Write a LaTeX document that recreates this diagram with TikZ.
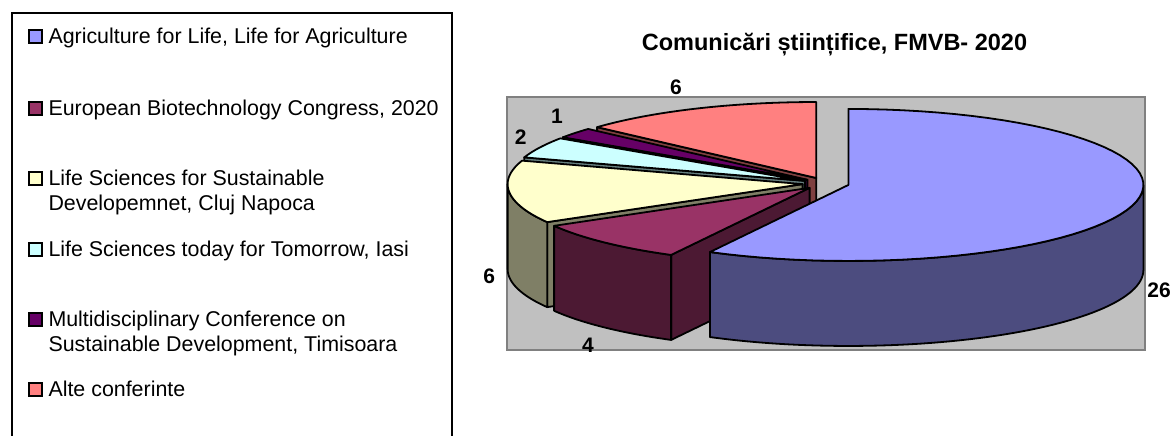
\documentclass[tikz,border=0pt]{standalone}
\usepackage{fontspec}
\setmainfont{Liberation Sans}
\definecolor{blueTop}{HTML}{9999FF}
\definecolor{blueSide}{HTML}{4C4C7F}
\definecolor{maroonTop}{HTML}{993366}
\definecolor{maroonSide}{HTML}{4C1933}
\definecolor{yellowTop}{HTML}{FFFFCC}
\definecolor{yellowSide}{HTML}{7F7F66}
\definecolor{cyanTop}{HTML}{CCFFFF}
\definecolor{cyanSide}{HTML}{667F7F}
\definecolor{purpleTop}{HTML}{660066}
\definecolor{purpleSide}{HTML}{330033}
\definecolor{pinkTop}{HTML}{FF8080}
\definecolor{pinkSide}{HTML}{7F4040}
\definecolor{plotGray}{HTML}{C0C0C0}
\definecolor{plotBorder}{HTML}{808080}
\def\Cx{825.8}\def\Cy{183.5}\def\E{0.079}\def\RX{295}\def\RY{76}\def\H{85}
\newcommand\apexat[1]{\pgfmathsetmacro\px{\Cx+\E*\RX*cos(#1)}\pgfmathsetmacro\py{\Cy-\E*\RY*sin(#1)}}
\tikzset{
  edge/.style={draw=black, line width=1.8pt, line join=round},
  legtext/.style={anchor=north west, inner sep=0pt, align=left, font=\fontsize{21.4}{25}\selectfont},
  legmark/.style={draw=black, line width=1.5pt, minimum size=13pt, inner sep=0pt},
  vallabel/.style={inner sep=0pt, font=\bfseries\fontsize{21}{25}\selectfont},
}
\newcommand\topface[3]{% #1 start #2 end #3 colour
  \filldraw[edge, fill=#3] (\px,\py) -- plot[domain=#1:#2, samples=60, variable=\t] ({\px+\RX*cos(\t)},{\py-\RY*sin(\t)}) -- cycle;}
\newcommand\cutface[2]{% #1 angle #2 colour
  \filldraw[edge, fill=#2] (\px,\py) -- ({\px+\RX*cos(#1)},{\py-\RY*sin(#1)}) -- ({\px+\RX*cos(#1)},{\py-\RY*sin(#1)+\H}) -- ({\px},{\py+\H}) -- cycle;}
\newcommand\sideface[3]{% #1 from #2 to #3 colour
  \filldraw[edge, fill=#3] plot[domain=#1:#2, samples=60, variable=\t] ({\px+\RX*cos(\t)},{\py-\RY*sin(\t)}) -- plot[domain=#2:#1, samples=60, variable=\t] ({\px+\RX*cos(\t)},{\py-\RY*sin(\t)+\H}) -- cycle;}
\begin{document}
\begin{tikzpicture}[x=1pt,y=-1pt]
\useasboundingbox (0,0) rectangle (1175,436);
\fill[white] (0,0) rectangle (1175,436);
% legend frame
\draw[line width=2pt] (12,445) -- (12,13) -- (452,13) -- (452,445);
% legend entries
\node[legmark, fill=blueTop] (m1) at (35.5,36.7) {};
\node[legtext] (t1) at (48.3,25.8) {\strut Agriculture for Life, Life for Agriculture};
\node[legmark, fill=maroonTop] (m2) at (35.5,108.3) {};
\node[legtext] (t2) at (48.3,97.5) {\strut European Biotechnology Congress, 2020};
\node[legmark, fill=yellowTop] (m3) at (35.5,178.3) {};
\node[legtext] (t3) at (48.3,167.5) {\strut Life Sciences for Sustainable\\\strut Developemnet, Cluj Napoca};
\node[legmark, fill=cyanTop] (m4) at (35.5,249.3) {};
\node[legtext] (t4) at (48.3,238.5) {\strut Life Sciences today for Tomorrow, Iasi};
\node[legmark, fill=purpleTop] (m5) at (35.5,319.3) {};
\node[legtext] (t5) at (48.3,308.5) {\strut Multidisciplinary Conference on\\\strut Sustainable Development, Timisoara};
\node[legmark, fill=pinkTop] (m6) at (35.5,389.3) {};
\node[legtext] (t6) at (48.3,378.5) {\strut Alte conferinte};
% title
\node[anchor=base, inner sep=0pt, font=\bfseries\fontsize{23.5}{27}\selectfont] (title) at (834.5,50.5) {Comunicări științifice, FMVB- 2020};
% plot area
\filldraw[fill=plotGray, draw=plotBorder, line width=1.5pt] (507,97) rectangle (1145,350);
% pink
\apexat{114}
\cutface{138}{pinkSide}
\topface{138}{90}{pinkTop}
% purple
\apexat{142}
\cutface{146}{purpleSide}
\topface{146}{138}{purpleTop}
% cyan
\apexat{154}
\cutface{162}{cyanSide}
\topface{162}{146}{cyanTop}
% yellow
\apexat{186}
\cutface{210}{yellowSide}
\sideface{180}{210}{yellowSide}
\topface{210}{162}{yellowTop}
% maroon
\apexat{-134}
\cutface{-118}{maroonSide}
\sideface{-150}{-118}{maroonSide}
\topface{-118}{-150}{maroonTop}
% blue
\apexat{-14}
\sideface{-118}{0}{blueSide}
\topface{90}{-118}{blueTop}
% value labels
\node[vallabel] (l26) at (1159,290) {26};
\node[vallabel] (l4) at (588,345) {4};
\node[vallabel] (l6a) at (489.3,276) {6};
\node[vallabel] (l2) at (520.7,137) {2};
\node[vallabel] (l1) at (557,116) {1};
\node[vallabel] (l6b) at (676,87) {6};
\end{tikzpicture}
\end{document}
